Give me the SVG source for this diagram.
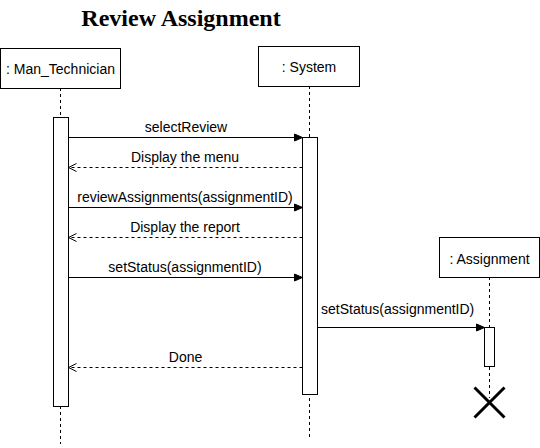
<svg xmlns="http://www.w3.org/2000/svg" width="540" height="448" viewBox="0 0 540 448">
<defs>
<marker id="fill" markerWidth="10" markerHeight="10" refX="9" refY="5" orient="auto" markerUnits="userSpaceOnUse">
<path d="M1,1.5 L9,5 L1,8.5 Z" fill="#000" stroke="#000" stroke-width="1"/>
</marker>
<marker id="open" markerWidth="10" markerHeight="10" refX="9" refY="5" orient="auto" markerUnits="userSpaceOnUse">
<path d="M1,1 L9,5 L1,9" fill="none" stroke="#000" stroke-width="1"/>
</marker>
<style>
.box{fill:#fff;stroke:#000;stroke-width:1}
.life{stroke:#000;stroke-width:1;stroke-dasharray:3 3;fill:none}
.lbl{font-family:"Liberation Sans",Arial,sans-serif;font-size:14px;fill:#000}
.msg{stroke:#000;stroke-width:1;fill:none;marker-end:url(#fill)}
.ret{stroke:#000;stroke-width:1;fill:none;stroke-dasharray:3 3;marker-end:url(#open)}
</style>
</defs>
<rect width="540" height="448" fill="#fff"/>
<text x="181" y="26" text-anchor="middle" font-family="'Liberation Serif','Times New Roman',serif" font-weight="bold" font-size="24">Review Assignment</text>

<g id="man_technician">
<line class="life" x1="60.5" y1="88" x2="60.5" y2="444"/>
<rect class="box" x="0.5" y="48.5" width="120" height="40"/>
<text class="lbl" x="60.5" y="73.5" text-anchor="middle">: Man_Technician</text>
<rect class="box" x="53.5" y="117.5" width="15" height="289"/>
</g>

<g id="system">
<line class="life" x1="309.5" y1="86" x2="309.5" y2="437"/>
<rect class="box" x="258.5" y="46.5" width="101" height="40"/>
<text class="lbl" x="309" y="72" text-anchor="middle">: System</text>
<rect class="box" x="302.5" y="137.5" width="15" height="257"/>
</g>

<g id="assignment">
<line class="life" x1="489.5" y1="277" x2="489.5" y2="398"/>
<rect class="box" x="439.5" y="237.5" width="100" height="40"/>
<text class="lbl" x="489.5" y="263.5" text-anchor="middle">: Assignment</text>
<rect class="box" x="484.5" y="327.5" width="10" height="39"/>
<path d="M474.5,387.5 L504.5,417.5 M504.5,387.5 L474.5,417.5" stroke="#000" stroke-width="3" fill="none"/>
</g>

<g id="connectors">
<line class="msg" x1="68.5" y1="137.5" x2="302.5" y2="137.5"/>
<text class="lbl" x="186" y="131.5" text-anchor="middle">selectReview</text>
<line class="ret" x1="302.5" y1="167.5" x2="68.5" y2="167.5"/>
<text class="lbl" x="185" y="161.5" text-anchor="middle">Display the menu</text>
<line class="msg" x1="68.5" y1="207.5" x2="302.5" y2="207.5"/>
<text class="lbl" x="185" y="201.5" text-anchor="middle">reviewAssignments(assignmentID)</text>
<line class="ret" x1="302.5" y1="237.5" x2="68.5" y2="237.5"/>
<text class="lbl" x="185" y="231.5" text-anchor="middle">Display the report</text>
<line class="msg" x1="68.5" y1="277.5" x2="302.5" y2="277.5"/>
<text class="lbl" x="185" y="271.5" text-anchor="middle">setStatus(assignmentID)</text>
<line class="msg" x1="317.5" y1="327.5" x2="484.5" y2="327.5"/>
<text class="lbl" x="321" y="313.5">setStatus(assignmentID)</text>
<line class="ret" x1="302.5" y1="367.5" x2="68.5" y2="367.5"/>
<text class="lbl" x="185.5" y="361.5" text-anchor="middle">Done</text>
</g>
</svg>
